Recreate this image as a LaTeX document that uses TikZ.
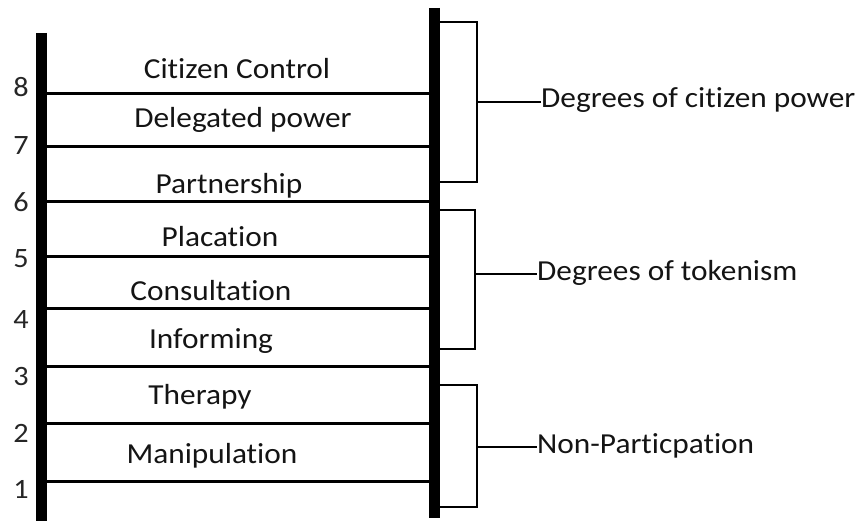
\documentclass[tikz,border=0pt]{standalone}
\usepackage{fontspec}
\setmainfont{Carlito}[Ligatures=NoCommon, FakeStretch=1.08]
\begin{document}
\begin{tikzpicture}[x=1pt,y=-1pt,
  pole/.style={line width=11pt},
  rung/.style={line width=3pt},
  brk/.style={line width=2.8pt},
  lbl/.style={inner sep=0pt, anchor=base, text=black!92, font=\fontsize{29}{34}\selectfont},
  num/.style={inner sep=0pt, anchor=base, text=black!85, font=\fontsize{28}{34}\selectfont},
  grp/.style={inner sep=0pt, anchor=base west, text=black!92, font=\fontsize{29}{34}\selectfont}]
\useasboundingbox (0,0) rectangle (859,521);
\fill[white] (0,0) rectangle (859,521);

% ladder poles
\coordinate (LT) at (41,33);  \coordinate (LB) at (41,521);
\coordinate (RT) at (434,8);  \coordinate (RB) at (434,518);

% rungs
\foreach \n/\y in {8/94,7/147,6/202,5/257,4/308,3/366,2/423,1/481}{
  \coordinate (L\n) at (41,\y);
  \coordinate (R\n) at (434,\y);
  \draw[rung] (L\n) -- (R\n);
}
\draw[pole] (LT) -- (LB);
\draw[pole] (RT) -- (RB);

% rung numbers
\foreach \n/\y in {8/97,7/155,6/212,5/268,4/328,3/385,2/442,1/498}{
  \node[num] (n\n) at (21,\y) {\n};
}

% rung labels
\node[lbl] (cc) at (237,79)  {Citizen Control};
\node[lbl] (dp) at (243,128) {Delegated power};
\node[lbl] (pa) at (229,194) {Partnership};
\node[lbl] (pl) at (220,247) {Placation};
\node[lbl] (co) at (211,300) {Consultation};
\node[lbl] (in) at (211,348) {Informing};
\node[lbl] (th) at (200,404) {Therapy};
\node[lbl] (ma) at (212,463) {Manipulation};

% group labels
\node[grp] (gcp) at (541,108) {Degrees of citizen power};
\node[grp] (gtk) at (537,280) {Degrees of tokenism};
\node[grp] (gnp) at (537,453) {Non-Particpation};

% brackets
\coordinate (b1t) at (439,22);  \coordinate (b1b) at (439,182); \coordinate (b1m) at (477,102);
\coordinate (b2t) at (439,210); \coordinate (b2b) at (439,349); \coordinate (b2m) at (475,274);
\coordinate (b3t) at (439,385); \coordinate (b3b) at (439,507); \coordinate (b3m) at (477,447);

\draw[brk] (b1t) -| (b1m) |- (b1b);
\draw[brk] (b2t) -| (b2m) |- (b2b);
\draw[brk] (b3t) -| (b3m) |- (b3b);

\draw[brk] (b1m) -- (b1m -| gcp.west);
\draw[brk] (b2m) -- (b2m -| gtk.west);
\draw[brk] (b3m) -- (b3m -| gnp.west);
\end{tikzpicture}
\end{document}
